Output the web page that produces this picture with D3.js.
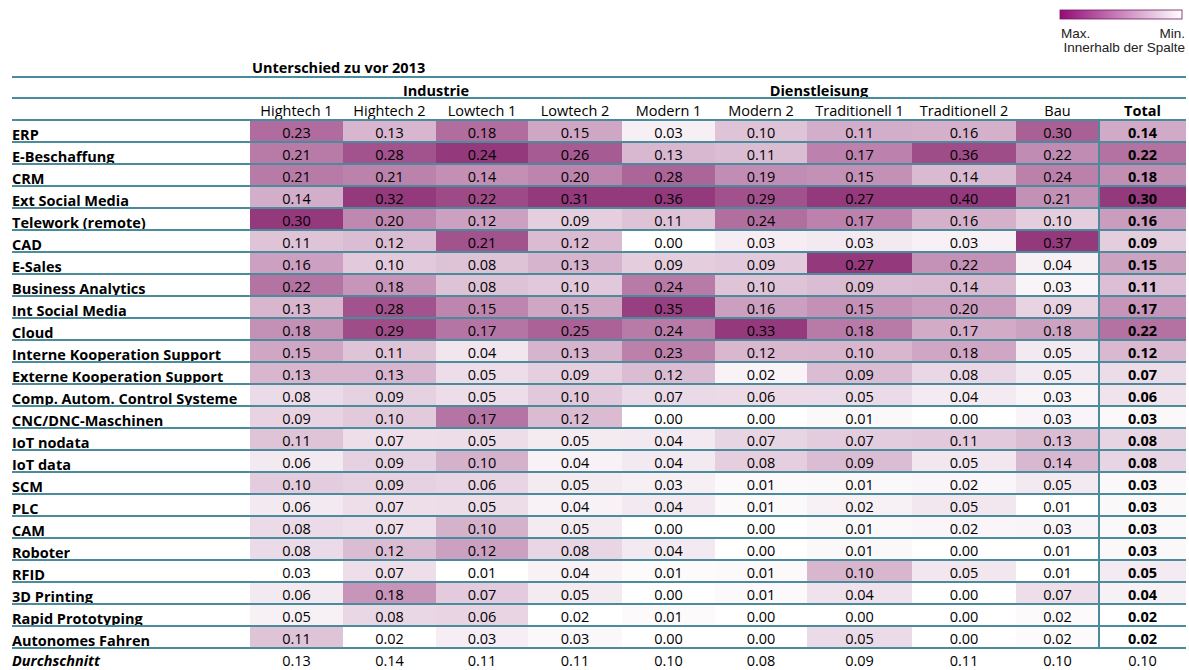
<!DOCTYPE html>
<html>
<head>
<meta charset="utf-8">
<script src="https://cdn.jsdelivr.net/npm/d3@7"></script>
<style>
  body { margin: 0; background: #fff; }
  svg { display: block; }
</style>
</head>
<body>
<svg id="chart" width="1189" height="670"></svg>
<script>
var title = "Unterschied zu vor 2013";
var groups = ["Industrie", "Dienstleisung"];
var columns = ["Hightech 1", "Hightech 2", "Lowtech 1", "Lowtech 2", "Modern 1", "Modern 2",
  "Traditionell 1", "Traditionell 2", "Bau", "Total"];
var rowLabels = ["ERP", "E-Beschaffung", "CRM", "Ext Social Media", "Telework (remote)", "CAD",
  "E-Sales", "Business Analytics", "Int Social Media", "Cloud", "Interne Kooperation Support",
  "Externe Kooperation Support", "Comp. Autom. Control Systeme", "CNC/DNC-Maschinen", "IoT nodata",
  "IoT data", "SCM", "PLC", "CAM", "Roboter", "RFID", "3D Printing", "Rapid Prototyping",
  "Autonomes Fahren"];
var values = [
  [0.23, 0.13, 0.18, 0.15, 0.03, 0.10, 0.11, 0.16, 0.30, 0.14],
  [0.21, 0.28, 0.24, 0.26, 0.13, 0.11, 0.17, 0.36, 0.22, 0.22],
  [0.21, 0.21, 0.14, 0.20, 0.28, 0.19, 0.15, 0.14, 0.24, 0.18],
  [0.14, 0.32, 0.22, 0.31, 0.36, 0.29, 0.27, 0.40, 0.21, 0.30],
  [0.30, 0.20, 0.12, 0.09, 0.11, 0.24, 0.17, 0.16, 0.10, 0.16],
  [0.11, 0.12, 0.21, 0.12, 0.00, 0.03, 0.03, 0.03, 0.37, 0.09],
  [0.16, 0.10, 0.08, 0.13, 0.09, 0.09, 0.27, 0.22, 0.04, 0.15],
  [0.22, 0.18, 0.08, 0.10, 0.24, 0.10, 0.09, 0.14, 0.03, 0.11],
  [0.13, 0.28, 0.15, 0.15, 0.35, 0.16, 0.15, 0.20, 0.09, 0.17],
  [0.18, 0.29, 0.17, 0.25, 0.24, 0.33, 0.18, 0.17, 0.18, 0.22],
  [0.15, 0.11, 0.04, 0.13, 0.23, 0.12, 0.10, 0.18, 0.05, 0.12],
  [0.13, 0.13, 0.05, 0.09, 0.12, 0.02, 0.09, 0.08, 0.05, 0.07],
  [0.08, 0.09, 0.05, 0.10, 0.07, 0.06, 0.05, 0.04, 0.03, 0.06],
  [0.09, 0.10, 0.17, 0.12, 0.00, 0.00, 0.01, 0.00, 0.03, 0.03],
  [0.11, 0.07, 0.05, 0.05, 0.04, 0.07, 0.07, 0.11, 0.13, 0.08],
  [0.06, 0.09, 0.10, 0.04, 0.04, 0.08, 0.09, 0.05, 0.14, 0.08],
  [0.10, 0.09, 0.06, 0.05, 0.03, 0.01, 0.01, 0.02, 0.05, 0.03],
  [0.06, 0.07, 0.05, 0.04, 0.04, 0.01, 0.02, 0.05, 0.01, 0.03],
  [0.08, 0.07, 0.10, 0.05, 0.00, 0.00, 0.01, 0.02, 0.03, 0.03],
  [0.08, 0.12, 0.12, 0.08, 0.04, 0.00, 0.01, 0.00, 0.01, 0.03],
  [0.03, 0.07, 0.01, 0.04, 0.01, 0.01, 0.10, 0.05, 0.01, 0.05],
  [0.06, 0.18, 0.07, 0.05, 0.00, 0.01, 0.04, 0.00, 0.07, 0.04],
  [0.05, 0.08, 0.06, 0.02, 0.01, 0.00, 0.00, 0.00, 0.02, 0.02],
  [0.11, 0.02, 0.03, 0.03, 0.00, 0.00, 0.05, 0.00, 0.02, 0.02]
];
var avgLabel = "Durchschnitt";
var averages = [0.13, 0.14, 0.11, 0.11, 0.10, 0.08, 0.09, 0.11, 0.10, 0.10];
var legendLabels = ["Max.", "Min.", "Innerhalb der Spalte"];

// layout
var colEdges = [250, 343, 436, 528, 622, 715, 807, 912, 1016, 1099, 1186];
var groupSpan = [[0, 3], [4, 7]];
var left = 12, right = 1186;
var lineColor = "#4b8c9c", maxColor = "#94397c";
var font = "'Open Sans', sans-serif";
var fs = "14.5px ";

var svg = d3.select("#chart");

var y = d3.scaleBand().domain(rowLabels).range([120, 648]).padding(0);

// one colour scale per column, min -> white, max -> purple
var colorScales = columns.map(function(c, j){
  var col = values.map(function(r){ return r[j]; });
  return d3.scaleLinear().domain(d3.extent(col)).range(["#ffffff", maxColor]);
});

var cellData = [];
values.forEach(function(r, i){
  r.forEach(function(v, j){ cellData.push({row: rowLabels[i], col: j, v: v}); });
});

svg.append("g").selectAll("rect")
  .data(cellData).enter().append("rect")
    .attr("x", function(d){ return colEdges[d.col]; })
    .attr("y", function(d){ return y(d.row); })
    .attr("width", function(d){ return colEdges[d.col + 1] - colEdges[d.col]; })
    .attr("height", y.bandwidth())
    .attr("fill", function(d){ return colorScales[d.col](d.v); });

svg.append("g").selectAll("text")
  .data(cellData).enter().append("text")
    .attr("x", function(d){ return (colEdges[d.col] + colEdges[d.col + 1]) / 2; })
    .attr("y", function(d){ return y(d.row) + 17.5; })
    .attr("text-anchor", "middle")
    .style("font", function(d){ return (d.col === 9 ? "bold " : "") + fs + font; })
    .attr("fill", "#000")
    .text(function(d){ return d3.format(".2f")(d.v); });

// row labels
svg.append("g").selectAll("text")
  .data(rowLabels).enter().append("text")
    .attr("x", left)
    .attr("y", function(d){ return y(d) + 19.5; })
    .style("font", "bold " + fs + font)
    .attr("fill", "#000")
    .text(function(d){ return d; });

// average row
svg.append("text").attr("x", left).attr("y", 666)
  .style("font", "italic bold " + fs + font).attr("fill", "#000").text(avgLabel);
svg.append("g").selectAll("text")
  .data(averages).enter().append("text")
    .attr("x", function(d, j){ return (colEdges[j] + colEdges[j + 1]) / 2; })
    .attr("y", 666)
    .attr("text-anchor", "middle")
    .style("font", fs + font)
    .attr("fill", "#000")
    .text(function(d){ return d3.format(".2f")(d); });

// header
svg.append("text").attr("x", 252).attr("y", 73)
  .style("font", "bold " + fs + font).attr("fill", "#000").text(title);
svg.append("g").selectAll("text")
  .data(groups).enter().append("text")
    .attr("x", function(d, i){ return (colEdges[groupSpan[i][0]] + colEdges[groupSpan[i][1] + 1]) / 2; })
    .attr("y", 96)
    .attr("text-anchor", "middle")
    .style("font", "bold " + fs + font)
    .attr("fill", "#000")
    .text(function(d){ return d; });
svg.append("g").selectAll("text")
  .data(columns).enter().append("text")
    .attr("x", function(d, j){ return (colEdges[j] + colEdges[j + 1]) / 2; })
    .attr("y", 116)
    .attr("text-anchor", "middle")
    .style("font", function(d, j){ return (j === 9 ? "bold " : "") + fs + font; })
    .attr("fill", "#000")
    .text(function(d){ return d; });

// grid lines
var lineYs = [77, 98].concat(rowLabels.map(function(d){ return y(d); }), [648]);
svg.append("g").selectAll("line")
  .data(lineYs).enter().append("line")
    .attr("x1", left).attr("x2", right)
    .attr("y1", function(d){ return d; }).attr("y2", function(d){ return d; })
    .attr("stroke", lineColor).attr("stroke-width", 2);
svg.append("line")
  .attr("x1", colEdges[9]).attr("x2", colEdges[9])
  .attr("y1", 120).attr("y2", 648)
  .attr("stroke", lineColor).attr("stroke-width", 2);

// legend
var lfont = "13.5px 'Liberation Sans', Arial, sans-serif";
var grad = svg.append("defs").append("linearGradient").attr("id", "lg");
grad.append("stop").attr("offset", "0%").attr("stop-color", "#950a78");
grad.append("stop").attr("offset", "100%").attr("stop-color", "#ffffff");
svg.append("rect").attr("x", 1060).attr("y", 10).attr("width", 122).attr("height", 9)
  .attr("fill", "url(#lg)").attr("stroke", "#6e1a5e").attr("stroke-width", 0.8);
svg.append("text").attr("x", 1061).attr("y", 38)
  .style("font", lfont).attr("fill", "#222").text(legendLabels[0]);
svg.append("text").attr("x", 1185).attr("y", 38).attr("text-anchor", "end")
  .style("font", lfont).attr("fill", "#222").text(legendLabels[1]);
svg.append("text").attr("x", 1185).attr("y", 52).attr("text-anchor", "end")
  .style("font", lfont).attr("fill", "#222").text(legendLabels[2]);
</script>
</body>
</html>
